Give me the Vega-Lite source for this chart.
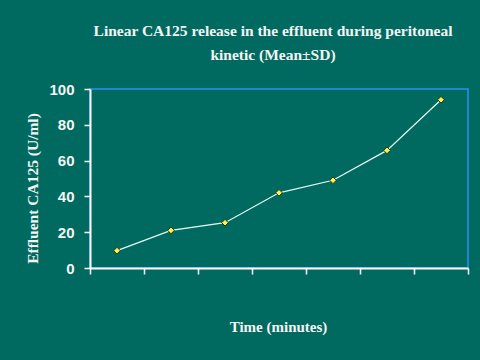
{
  "$schema": "https://vega.github.io/schema/vega-lite/v6.json",
  "autosize": "none",
  "width": 378,
  "height": 179,
  "padding": {"left": 90, "top": 89, "right": 12, "bottom": 92},
  "background": "#006a60",
  "title": {
    "text": ["Linear CA125 release in the effluent during peritoneal", "kinetic (Mean±SD)"],
    "anchor": "middle",
    "frame": "group",
    "font": "Liberation Serif",
    "fontSize": 15.5,
    "fontWeight": "bold",
    "color": "#f4f4f4",
    "lineHeight": 24,
    "offset": 19,
    "dx": -6
  },
  "config": {
    "view": {"fill": "#006a60", "stroke": "#1f86d0", "strokeWidth": 2}
  },
  "data": {
    "values": [
      {"t": 1, "ca125": 9.7},
      {"t": 2, "ca125": 21},
      {"t": 3, "ca125": 25.3},
      {"t": 4, "ca125": 42},
      {"t": 5, "ca125": 49},
      {"t": 6, "ca125": 65.7},
      {"t": 7, "ca125": 94}
    ]
  },
  "encoding": {
    "x": {
      "field": "t",
      "type": "quantitative",
      "scale": {"domain": [0.5, 7.5], "nice": false, "zero": false},
      "axis": {
        "title": "Time (minutes)",
        "values": [0.5, 1.5, 2.5, 3.5, 4.5, 5.5, 6.5, 7.5],
        "labels": false,
        "grid": false,
        "domainColor": "#ffffff",
        "domainWidth": 2,
        "tickColor": "#ffffff",
        "tickWidth": 1.5,
        "tickSize": 6,
        "titleFont": "Liberation Serif",
        "titleFontSize": 15,
        "titleFontWeight": "bold",
        "titleColor": "#f4f4f4",
        "titleX": 188,
        "titleY": 58,
        "titleBaseline": "middle"
      }
    },
    "y": {
      "field": "ca125",
      "type": "quantitative",
      "scale": {"domain": [0, 100], "nice": false},
      "axis": {
        "title": "Effluent CA125 (U/ml)",
        "values": [0, 20, 40, 60, 80, 100],
        "grid": false,
        "domainColor": "#ffffff",
        "domainWidth": 2,
        "tickColor": "#ffffff",
        "tickWidth": 1.5,
        "tickSize": 6,
        "labelColor": "#f4f4f4",
        "labelFont": "Liberation Sans",
        "labelFontSize": 15,
        "labelFontWeight": "bold",
        "labelPadding": 10,
        "titleFont": "Liberation Serif",
        "titleFontSize": 15.5,
        "titleFontWeight": "bold",
        "titleColor": "#f4f4f4",
        "titleX": -58,
        "titleY": 99,
        "titleBaseline": "middle",
        "titleAngle": -90
      }
    }
  },
  "layer": [
    {"mark": {"type": "line", "color": "#e8fbf4", "strokeWidth": 1.2}},
    {"mark": {"type": "point", "shape": "diamond", "filled": true, "fill": "#f4f45a", "stroke": "#333300", "strokeWidth": 1, "size": 45, "opacity": 1}}
  ]
}
